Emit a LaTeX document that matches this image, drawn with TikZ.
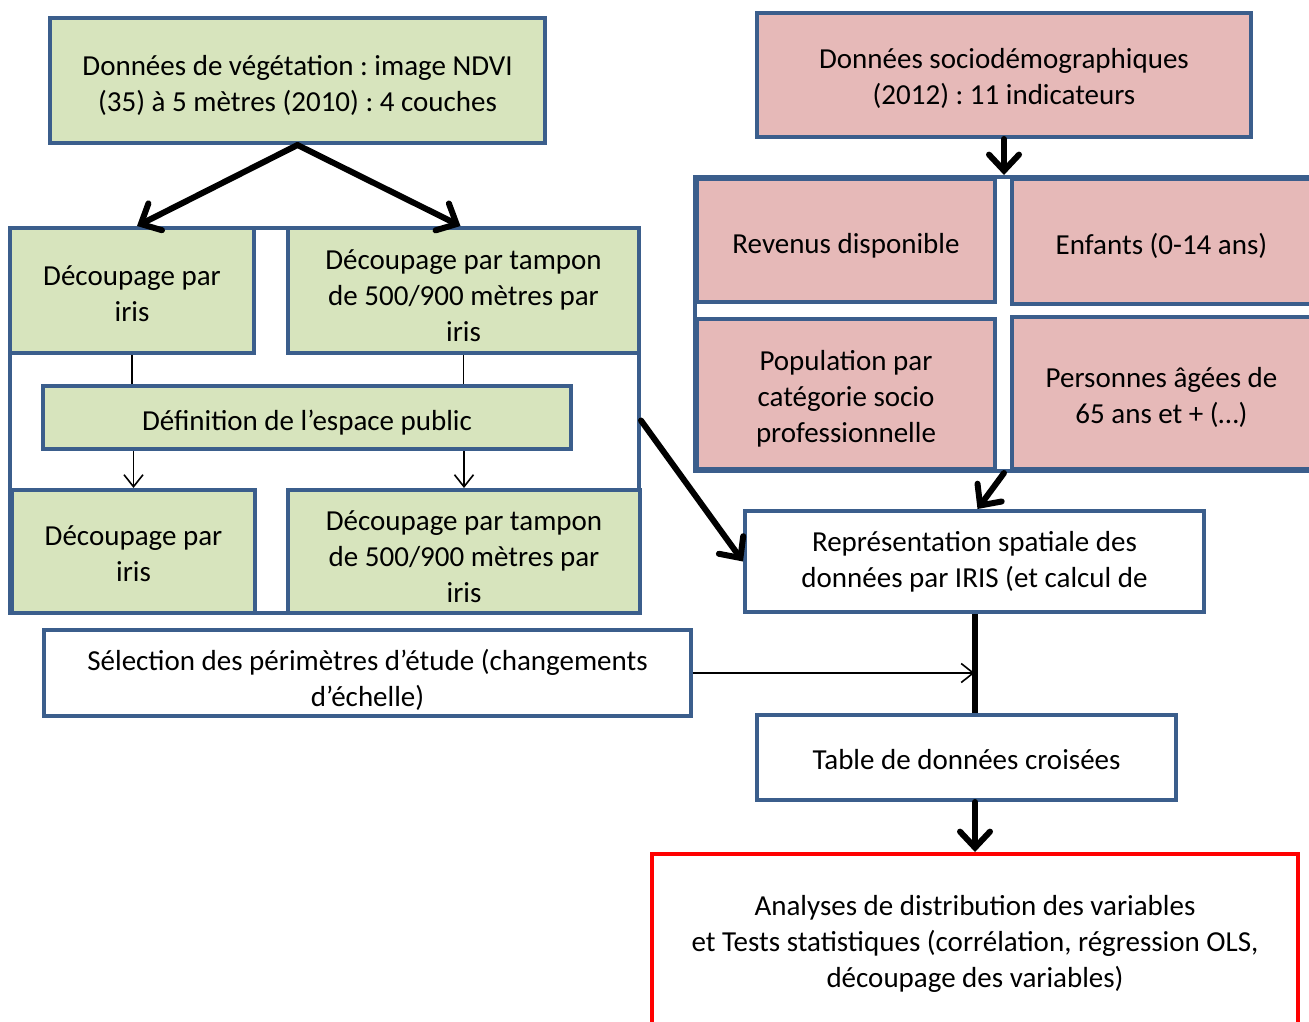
\documentclass[tikz,border=0pt]{standalone}
\usepackage{fontspec}
\setmainfont{Carlito}
\frenchspacing
\usetikzlibrary{arrows.meta}
\definecolor{bord}{HTML}{3B5E8C}
\definecolor{gfill}{HTML}{D7E4BD}
\definecolor{pfill}{HTML}{E6B9B8}
\newcommand\lift[1]{\rule{0pt}{#1}}
\tikzset{
  tstrut/.initial=30pt,
  base/.style={draw=bord, line width=4pt, align=center, inner sep=0pt,
    font=\fontsize{29}{36}\selectfont,
    execute at begin node={\rule{0pt}{\pgfkeysvalueof{/tikz/tstrut}}}},
  gbox/.style={base, fill=gfill},
  pbox/.style={base, fill=pfill},
  wbox/.style={base, fill=white},
  rbox/.style={base, draw={rgb,255:red,255;green,0;blue,0}, fill=white},
  thick arrow/.style={line width=6pt, line cap=round,
    -{Straight Barb[length=16pt,width=30pt,line cap=round]}},
  thick line/.style={line width=6pt},
  thin arrow/.style={line width=1.6pt, -{Straight Barb[length=12pt,width=19pt]}},
  thin line/.style={line width=1.6pt},
}
\begin{document}
\begin{tikzpicture}[x=1pt,y=-1pt]
\useasboundingbox (0,0) rectangle (1309,1021);
\clip (0,0) rectangle (1309,1021);

% left (vegetation) part
\node[gbox, minimum width=495pt, minimum height=125pt] (veg) at (297.5,80.5)
  {\lift{30pt}Données de végétation : image NDVI\\(35) à 5 mètres (2010) : 4 couches};
\node[wbox, minimum width=629pt, minimum height=385pt] (frameL) at (324.5,420.5) {};
\node[gbox, minimum width=244pt, minimum height=125pt] (irisA) at (132,290.5)
  {\lift{26pt}Découpage par\\iris};
\node[gbox, minimum width=351pt, minimum height=125pt] (tamA) at (463.5,290.5)
  {\lift{30pt}Découpage par tampon\\de 500/900 mètres par\\iris};
\node[gbox, minimum width=528pt, minimum height=63pt] (defn) at (307,417.5)
  {Définition de l’espace public};
\node[gbox, minimum width=243pt, minimum height=123pt] (irisB) at (133.5,551.5)
  {\lift{24pt}Découpage par\\iris};
\node[gbox, minimum width=352pt, minimum height=123pt] (tamB) at (464,551.5)
  {\lift{30pt}Découpage par tampon\\de 500/900 mètres par\\iris};
\node[wbox, minimum width=647pt, minimum height=86pt] (sel) at (367.5,673)
  {\lift{34pt}Sélection des périmètres d’étude (changements\\d’échelle)};

% right (socio) part
\node[pbox, minimum width=494pt, minimum height=124pt] (socio) at (1004,75)
  {\lift{28pt}Données sociodémographiques\\(2012) : 11 indicateurs};
\node[wbox, minimum width=621pt, minimum height=294pt] (frameR) at (1005.5,324) {};
\node[pbox, minimum width=298pt, minimum height=123pt] (rev) at (846,240.5)
  {Revenus disponible};
\node[pbox, minimum width=299pt, minimum height=125pt] (enf) at (1161.5,241.5)
  {Enfants (0-14 ans)};
\node[pbox, minimum width=298pt, minimum height=150pt] (pop) at (846,394)
  {\lift{29pt}Population par\\catégorie socio\\professionnelle};
\node[pbox, minimum width=299pt, minimum height=152pt] (pers) at (1161.5,393)
  {\lift{30pt}Personnes âgées de\\65 ans et + (…)};
\node[wbox, minimum width=459pt, minimum height=101pt] (repr) at (974.5,561.5)
  {Représentation spatiale des\\données par IRIS (et calcul de};
\node[wbox, tstrut=25pt, minimum width=419pt, minimum height=85pt] (table) at (966.5,757.5)
  {Table de données croisées};
\node[rbox, minimum width=646pt, minimum height=172pt] (res) at (975,940)
  {\lift{27pt}Analyses de distribution des variables\\et Tests statistiques (corrélation, régression OLS,\\découpage des variables)};

% connectors
\draw[thick arrow] (veg.south) -- ([xshift=5pt]irisA.north);
\draw[thick arrow] (veg.south) -- ([xshift=-3pt]tamA.north);
\draw[thin line] (irisA.south) -- (irisA.south |- defn.north);
\draw[thin line] (tamA.south) -- (tamA.south |- defn.north);
\draw[thin arrow] (irisB.north |- defn.south) -- (irisB.north);
\draw[thin arrow] (tamB.north |- defn.south) -- (tamB.north);
\draw[thick arrow] (frameL.east) -- (repr.west);
\draw[thick arrow] (socio.south) -- (socio.south |- frameR.north);
\draw[thick arrow] (frameR.south -| socio.south) -- ([xshift=3pt]repr.north);
\draw[thick line] (repr.south) -- (repr.south |- table.north);
\draw[thin arrow] (sel.east) -- (sel.east -| repr.south);
\draw[thick arrow] (res.north |- table.south) -- (res.north);
\end{tikzpicture}
\end{document}
